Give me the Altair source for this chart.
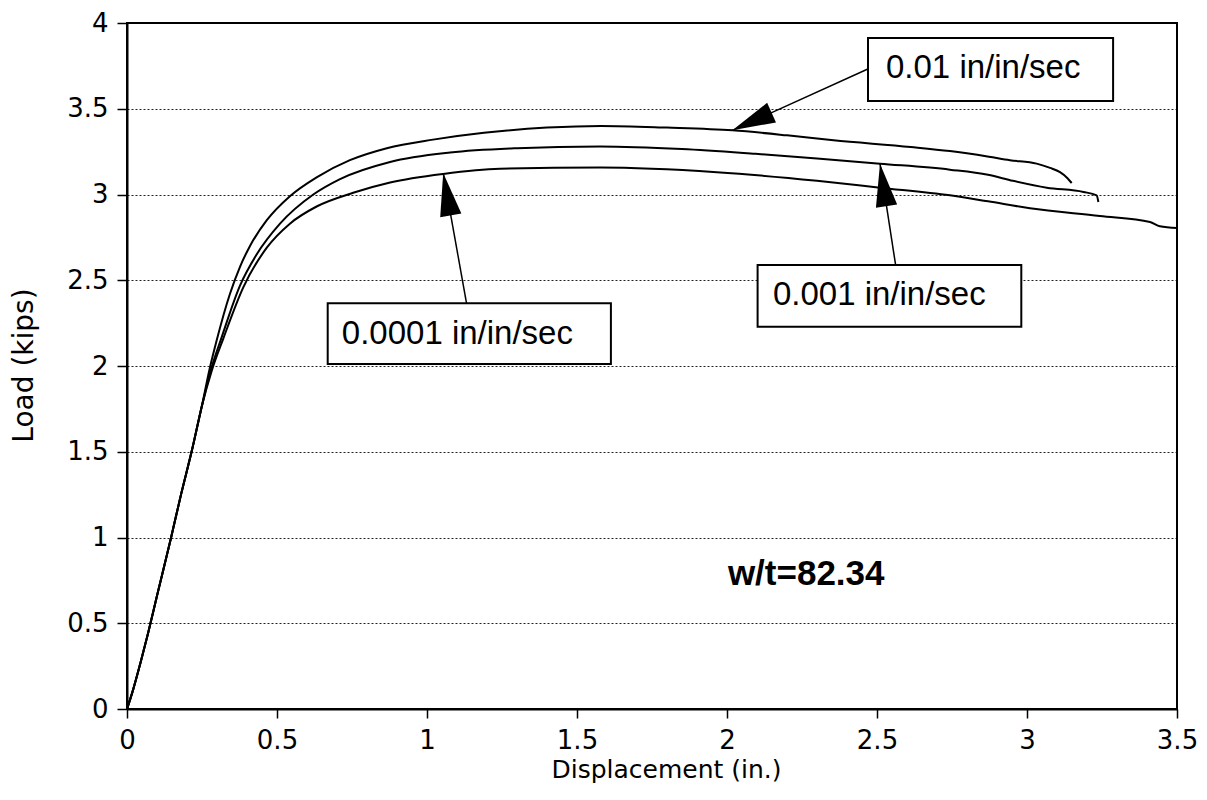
import math
import altair as alt
import pandas as pd

# ---- data ----
rise_x = [0.0, 0.02, 0.045, 0.07, 0.1, 0.147, 0.18, 0.218, 0.25]
rise_y = [0.0, 0.11, 0.27, 0.44, 0.66, 1.0, 1.25, 1.52, 1.77]

fast_x = [0.275, 0.299, 0.343, 0.377, 0.41, 0.466, 0.543, 0.632, 0.743, 0.866, 1.02, 1.19,
          1.4, 1.58, 1.8, 2.018, 2.2, 2.355, 2.613, 2.743, 2.873, 2.943, 3.032, 3.077,
          3.11, 3.135, 3.149]
fast_y = [1.98, 2.15, 2.42, 2.58, 2.70, 2.85, 2.99, 3.10, 3.20, 3.27, 3.32, 3.36,
          3.39, 3.40, 3.39, 3.374, 3.345, 3.316, 3.277, 3.253, 3.22, 3.20, 3.18, 3.155,
          3.13, 3.095, 3.067]

mid_x = [0.28, 0.316, 0.377, 0.432, 0.51, 0.621, 0.71, 0.877, 1.077, 1.3, 1.577, 1.85,
         2.095, 2.3, 2.51, 2.743, 2.87, 2.953, 3.066, 3.188, 3.232, 3.238]
mid_y = [1.98, 2.17, 2.47, 2.65, 2.83, 3.0, 3.09, 3.19, 3.245, 3.27, 3.28, 3.265,
         3.237, 3.21, 3.18, 3.145, 3.115, 3.08, 3.04, 3.015, 2.995, 2.956]

slow_x = [0.282, 0.321, 0.388, 0.466, 0.543, 0.632, 0.754, 0.877, 1.054, 1.243, 1.577,
          1.966, 2.30, 2.51, 2.743, 2.87, 3.01, 3.243, 3.41, 3.443, 3.5]
slow_y = [1.97, 2.16, 2.46, 2.69, 2.83, 2.93, 3.01, 3.07, 3.12, 3.15, 3.157,
          3.13, 3.08, 3.04, 2.995, 2.96, 2.92, 2.875, 2.84, 2.815, 2.805]

labels = ["0.01 in/in/sec", "0.001 in/in/sec", "0.0001 in/in/sec"]
box_x1 = [2.470, 2.102, 0.669]
box_x2 = [3.287, 2.981, 1.613]
box_y1 = [3.913, 2.589, 2.366]
box_y2 = [3.545, 2.229, 2.012]
text_x = [2.53, 2.153, 0.716]
text_y = [3.735, 2.414, 2.184]
tail_x = [2.475, 2.562, 1.132]
tail_y = [3.736, 2.589, 2.364]
tip_x = [2.018, 2.51, 1.054]
tip_y = [3.374, 3.18, 3.125]

note_text = ["w/t=82.34"]
note_x = [2.003]
note_y = [0.723]

x_ticks = [0, 0.5, 1, 1.5, 2, 2.5, 3, 3.5]
y_ticks = [0, 0.5, 1, 1.5, 2, 2.5, 3, 3.5, 4]

# ---- chart ----
W, H = 1050, 686
XD, YD = [0, 3.5], [0, 4]
xs = alt.Scale(domain=XD, nice=False, zero=False)
ys = alt.Scale(domain=YD, nice=False, zero=False)

xaxis = alt.Axis(
    values=x_ticks, format="~g", title="Displacement (in.)", grid=False,
    labelFont="DejaVu Sans", labelFontSize=26, labelColor="black", labelPadding=9,
    tickSize=9, tickColor="black", tickWidth=1.5, domainColor="black", domainWidth=2,
    titleFont="DejaVu Sans", titleFontSize=25, titleFontWeight="normal", titleColor="black",
    titleX=539, titleY=68, titleBaseline="alphabetic", titleAlign="center", labelFlush=False)
yaxis = alt.Axis(
    values=y_ticks, format="~g", title="Load (kips)", grid=True,
    gridDash=[2, 2], gridColor="#222", gridWidth=1,
    labelFont="DejaVu Sans", labelFontSize=26, labelColor="black", labelPadding=9,
    tickSize=10, tickColor="black", tickWidth=1.5, domainColor="black", domainWidth=2,
    titleFont="DejaVu Sans", titleFontSize=28, titleFontWeight="normal", titleColor="black",
    titleX=-103, titleY=342, titleAngle=270, titleBaseline="middle", titleAlign="center",
    labelFlush=False)


def X(field):
    return alt.X(field, scale=xs, axis=xaxis, title="Displacement (in.)")


def Y(field):
    return alt.Y(field, scale=ys, axis=yaxis, title="Load (kips)")


rows = []
for name, sx, sy in [("0.01", fast_x, fast_y), ("0.001", mid_x, mid_y), ("0.0001", slow_x, slow_y)]:
    for a, b in zip(rise_x + sx, rise_y + sy):
        rows.append({"x": a, "y": b, "series": name})
curves = pd.DataFrame(rows)

lines = alt.Chart(curves).mark_line(color="black", strokeWidth=2, interpolate="monotone").encode(
    x=X("x:Q"), y=Y("y:Q"), detail="series:N",
)

ann = pd.DataFrame({
    "label": labels, "bx1": box_x1, "bx2": box_x2, "by1": box_y1, "by2": box_y2,
    "tx": text_x, "ty": text_y, "ax": tail_x, "ay": tail_y, "hx": tip_x, "hy": tip_y,
})
px_x = W / (XD[1] - XD[0])
px_y = H / (YD[1] - YD[0])
ann["angle"] = [
    (math.degrees(math.atan2((hx - ax) * px_x, (hy - ay) * px_y)) + 360) % 360
    for ax, ay, hx, hy in zip(tail_x, tail_y, tip_x, tip_y)
]

rules = alt.Chart(ann).mark_rule(color="black", strokeWidth=1.5).encode(
    x=X("ax:Q"), y=Y("ay:Q"), x2="hx:Q", y2="hy:Q",
)

heads = alt.Chart(ann).mark_point(
    shape="M0,0 L-0.5,2 L0.5,2 Z", filled=True, color="black", opacity=1, size=1849, strokeWidth=0,
).encode(
    x=X("hx:Q"), y=Y("hy:Q"), angle=alt.Angle("angle:Q", scale=None),
)

boxes = alt.Chart(ann).mark_rect(fill="white", stroke="black", strokeWidth=2).encode(
    x=X("bx1:Q"), x2="bx2:Q", y=Y("by1:Q"), y2="by2:Q",
)

texts = alt.Chart(ann).mark_text(
    align="left", baseline="middle", font="Liberation Sans", fontSize=33, color="black",
).encode(
    x=X("tx:Q"), y=Y("ty:Q"), text="label:N",
)

note = alt.Chart(pd.DataFrame({"t": note_text, "x": note_x, "y": note_y})).mark_text(
    align="left", baseline="alphabetic", font="Liberation Sans", fontSize=35,
    fontWeight="bold", color="black",
).encode(
    x=X("x:Q"), y=Y("y:Q"), text="t:N",
)

frame = alt.Chart(pd.DataFrame({"f": [0]})).mark_rect(
    fillOpacity=0, stroke="black", strokeWidth=2,
).encode(
    x=alt.value(0), x2=alt.value(W), y=alt.value(0), y2=alt.value(H),
)

chart = alt.layer(lines, rules, heads, boxes, texts, note, frame).properties(
    width=W, height=H,
    autosize=alt.AutoSizeParams(type="none"),
    padding={"left": 119, "top": 15, "right": 22, "bottom": 83},
).configure(background="white").configure_view(stroke="black", strokeWidth=1.5)

chart.save("out.html", embed_options={"renderer": "svg", "actions": False})
